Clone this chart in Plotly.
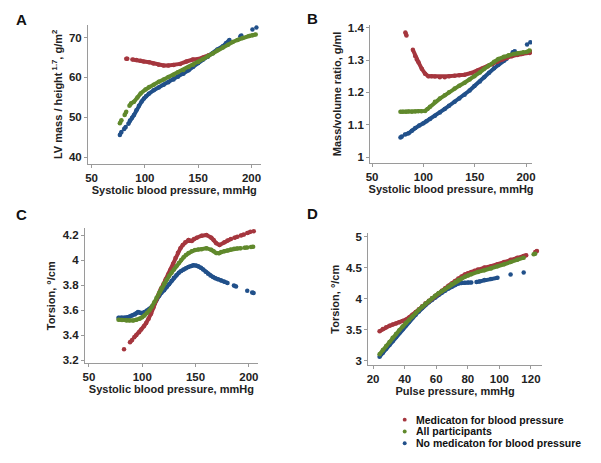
import plotly.graph_objects as go

names = ["Medicaton for blood pressure", "All participants", "No medicaton for blood pressure"]
colors = ["#a5363e", "#60892c", "#21508a"]

# panel A: LV mass index vs systolic BP
a_x_med = [82.5, 83.5, None, 88.3, 92, 96, 99, 104, 108, 113, 117.6, 122, 127, 133, 139, 145, 150, 155, 160]
a_y_med = [64.7, 64.7, None, 64.5, 64.4, 64.2, 64.0, 63.8, 63.5, 63.2, 63.0, 63.0, 63.1, 63.4, 64.0, 64.5, 64.6, 65.0, 65.6]
a_x_all = [76.5, 78.0, None, 81.0, 82.5, None, 85.5, 87.0, 89.8, 93, 96.0, 100.6, 104, 108.3, 113, 117.6, 122, 126.9, 131, 136.1,
           141, 145.4, 150, 154.6, 159, 163.9, 168, 173.1, 178, 182.4, 187, 191.7, 197.8, 201, 204.0]
a_y_all = [48.5, 49.3, None, 50.6, 51.4, None, 52.9, 53.5, 53.9, 55.0, 56.0, 57.0, 57.6, 58.2, 58.9, 59.5, 60.1, 60.7, 61.3, 61.9,
           62.6, 63.2, 63.9, 64.6, 65.3, 66.1, 66.8, 67.5, 68.2, 68.9, 69.4, 69.9, 70.4, 70.6, 70.8]
a_x_no = [76.5, 78.0, None, 80.5, 82.0, None, 84.5, 86.0, 88.0, 89.8, 92, 94.4, 97, 99.1, 101, 103.7, 108.3, 113, 117.6, 122,
          126.9, 131, 136.1, 141, 145.4, 150, 154.6, 159, 163.9, 168, 173.1, 176, 179.3, None, 189.5, 190.5, None, 200.9, None, 204.6]
a_y_no = [45.6, 46.3, None, 47.1, 47.6, None, 48.4, 49.2, 49.9, 50.6, 51.8, 52.9, 54.0, 54.7, 55.3, 55.9, 56.8, 57.5, 58.2, 58.8,
          59.5, 60.2, 60.9, 61.8, 62.7, 63.6, 64.5, 65.2, 66.1, 67.0, 67.8, 68.6, 69.4, None, 70.3, 70.5, None, 72.0, None, 72.5]

# panel B: mass/volume ratio vs systolic BP
b_x_med = [82.4, 83.5, None, 89.7, 91.9, 93.5, 95.2, 98.4, 101.6, 104.8, 108, 111.2, 116, 120.8, 125, 130.4, 135, 140.1, 146.5,
           152.9, 157, 162.5, 167, 172.1, 177, 181.7, 186, 191.3, 196, 201.0, None, 203.5, 204.5]
b_y_med = [1.385, 1.376, None, 1.332, 1.313, 1.302, 1.293, 1.273, 1.258, 1.250, 1.250, 1.249, 1.247, 1.247, 1.250, 1.252, 1.253, 1.255, 1.260,
           1.268, 1.273, 1.280, 1.287, 1.295, 1.302, 1.308, 1.312, 1.316, 1.319, 1.322, None, 1.322, 1.326]
b_x_all = [77.6, 80, 83, 85.5, 88.8, 92, 95, 98, 101.6, 104, 106.4, 111.2, 116, 120.8, 125, 130.4, 135, 140.1, 145, 149.7, 155, 159.3,
           164, 168.9, 173, 178.5, 183, 188.1, 192, 197.8, None, 200.5, 203.5]
b_y_all = [1.140, 1.140, 1.140, 1.141, 1.140, 1.141, 1.142, 1.142, 1.143, 1.149, 1.156, 1.171, 1.181, 1.191, 1.201, 1.212, 1.221, 1.230, 1.240,
           1.250, 1.262, 1.273, 1.284, 1.295, 1.303, 1.310, 1.315, 1.319, 1.321, 1.324, None, 1.325, 1.330]
b_x_no = [77.6, 79, None, 82, 85.6, 88.8, 92.0, 96, 100, 103, 106.4, 111.2, 116, 120.8, 125, 130.4, 135, 140.1, 145, 149.7, 155,
          159.3, 164, 168.9, 173, 178.5, 181, None, 187, 189, None, 201.0, None, 204.2]
b_y_no = [1.061, 1.064, None, 1.070, 1.074, 1.082, 1.090, 1.098, 1.105, 1.111, 1.118, 1.128, 1.138, 1.149, 1.159, 1.171, 1.181, 1.193, 1.206,
          1.220, 1.234, 1.247, 1.261, 1.275, 1.286, 1.298, 1.304, None, 1.324, 1.327, None, 1.348, None, 1.355]

# panel C: torsion vs systolic BP
c_x_med = [82.9, None, 88.5, 90.5, None, 92.5, 94.5, 97, 99.1, 101.5, 103.7, 106, 108.3, 110.5, 112.8, 115, 117.4, 120, 122.0, 124.5,
           126.6, 129, 131.2, 133.5, 135.8, 138, 140.4, 143.4, 146.5, 148.5, 151.1, 155.7, 160.2, 164.8, 167, 169.4, 172.5, 177.1,
           180, 183.2, None, 186.5, 189.3, None, 192.5, 195.4, None, 198.5, 201.5, None, 204.6]
c_y_med = [3.289, None, 3.345, 3.362, None, 3.384, 3.402, 3.425, 3.446, 3.472, 3.498, 3.532, 3.572, 3.622, 3.676, 3.722, 3.768, 3.810, 3.847, 3.888,
           3.925, 3.970, 4.017, 4.058, 4.095, 4.120, 4.142, 4.161, 4.153, 4.168, 4.179, 4.195, 4.200, 4.179, 4.160, 4.135, 4.121, 4.142,
           4.156, 4.169, None, 4.178, 4.187, None, 4.196, 4.205, None, 4.216, 4.226, None, 4.231]
c_x_all = [77.7, 81, 85.3, 88, 91.4, 94.5, 97.6, 100, 102.1, 104.5, 106.7, 109, 111.3, 113.5, 115.9, 118, 120.5, 122.8, 125.1, 127.5,
           129.7, 132, 134.3, 136.5, 138.8, 141, 143.4, 146.5, 149.5, 152.5, 155.7, 160.2, 164.8, 167, 169.4, 172, 174.0, 177, 180.1,
           183, 186.2, 189, 192.4, None, 196, 198.5, None, 202, 204.0]
c_y_all = [3.525, 3.522, 3.519, 3.518, 3.519, 3.524, 3.532, 3.544, 3.559, 3.577, 3.598, 3.628, 3.663, 3.702, 3.742, 3.778, 3.813, 3.843, 3.873, 3.900,
           3.925, 3.951, 3.977, 4.000, 4.022, 4.040, 4.056, 4.070, 4.080, 4.084, 4.087, 4.095, 4.082, 4.070, 4.056, 4.055, 4.064, 4.071, 4.077,
           4.084, 4.090, 4.093, 4.095, None, 4.098, 4.101, None, 4.104, 4.106]
c_x_no = [77.7, 80.5, 83.8, 86, 88.4, 90.5, 93.0, 94.5, 96.0, 97.5, 99.1, 102.1, 104.5, 106.7, 109, 111.3, 113.5, 115.9, 118, 120.5,
          122.8, 125.1, 127.5, 129.7, 132, 134.3, 136.5, 138.8, 141, 143.4, 146, 148.0, 150.5, 152.6, 155, 157.2, 159.5, 161.8,
          164, 166.4, 168.5, 170.9, 174, 177.1, 180, None, 186, 188, None, 198.5, None, 203.1, 204.5]
c_y_no = [3.540, 3.540, 3.540, 3.545, 3.551, 3.558, 3.566, 3.576, 3.585, 3.582, 3.577, 3.585, 3.597, 3.611, 3.629, 3.650, 3.683, 3.716, 3.740, 3.760,
          3.784, 3.807, 3.835, 3.860, 3.880, 3.899, 3.913, 3.925, 3.936, 3.946, 3.953, 3.959, 3.956, 3.951, 3.940, 3.925, 3.908, 3.891,
          3.877, 3.865, 3.856, 3.847, 3.838, 3.828, 3.818, None, 3.797, 3.790, None, 3.755, None, 3.742, 3.738]

# panel D: torsion vs pulse pressure
d_x_med = [24.1, 26.2, 28.3, 30.4, 32.4, 34.5, 36.6, 38.7, 40.7, 42.8, 44.9, 47, 49.0, 51.1, 53.2, 55.3, 57.3, 59.4, 61.5, 63.5,
           65.6, 67.7, 69.8, 71.9, 74.0, 76, 78.1, 80.2, 82.2, 84.3, 86.4, 90.5, 94.7, 98.8, 103.0, 107.1, 111.3, 115.4, 117, None, 122.7, 123.8]
d_y_med = [3.477, 3.512, 3.541, 3.565, 3.584, 3.603, 3.621, 3.641, 3.663, 3.700, 3.743, 3.788, 3.833, 3.880, 3.928, 3.968, 4.008, 4.048, 4.088, 4.128,
           4.167, 4.207, 4.247, 4.287, 4.326, 4.358, 4.390, 4.412, 4.432, 4.451, 4.469, 4.501, 4.523, 4.554, 4.592, 4.629, 4.660, 4.687, 4.700,
           None, 4.750, 4.768]
d_x_all = [24.1, 26.2, 28.3, 30.4, 32.4, 34.5, 36.6, 38.7, 40.7, 42.8, 44.9, 47, 49.0, 51.1, 53.2, 55.3, 57.3, 59.4, 61.5, 63.5,
           65.6, 67.7, 69.8, 71.9, 74.0, 76, 78.1, 80.2, 82.2, 86.4, 90.5, 94.7, 98.8, 103.0, 107.1, 111.3, 115.4, None, 121.7, 122.7]
d_y_all = [3.106, 3.175, 3.239, 3.306, 3.371, 3.433, 3.493, 3.553, 3.610, 3.664, 3.716, 3.770, 3.822, 3.871, 3.918, 3.963, 4.008, 4.049, 4.088, 4.120,
           4.151, 4.194, 4.236, 4.269, 4.300, 4.327, 4.353, 4.375, 4.395, 4.432, 4.459, 4.485, 4.523, 4.554, 4.592, 4.629, 4.660, None, 4.714, 4.724]
d_x_no = [24.1, 26.2, 28.3, 30.4, 32.4, 34.5, 36.6, 38.7, 40.7, 42.8, 44.9, 47, 49.0, 51.1, 53.2, 55.3, 57.3, 59.4, 61.5, 63.5,
          65.6, 67.7, 69.8, 71.9, 74.0, 76, 78.1, 80.2, 82.2, None, 85.5, 87.5, 90.5, 94.7, 98.8, None, 107.1, None, 115.4]
d_y_no = [3.069, 3.133, 3.196, 3.258, 3.318, 3.386, 3.451, 3.511, 3.568, 3.630, 3.690, 3.744, 3.796, 3.850, 3.902, 3.942, 3.981, 4.022, 4.061, 4.097,
          4.130, 4.163, 4.194, 4.222, 4.247, 4.253, 4.257, 4.260, 4.263, None, 4.270, 4.277, 4.300, 4.316, 4.337, None, 4.390, None, 4.422]

panels = [
    ("x", "y", [(a_x_med, a_y_med), (a_x_all, a_y_all), (a_x_no, a_y_no)]),
    ("x2", "y2", [(b_x_med, b_y_med), (b_x_all, b_y_all), (b_x_no, b_y_no)]),
    ("x3", "y3", [(c_x_med, c_y_med), (c_x_all, c_y_all), (c_x_no, c_y_no)]),
    ("x4", "y4", [(d_x_med, d_y_med), (d_x_all, d_y_all), (d_x_no, d_y_no)]),
]

fig = go.Figure()
draw_order = [2, 0, 1]  # blue under, then red, green on top
for xa, ya, series in panels:
    for i in draw_order:
        sx, sy = series[i]
        fig.add_trace(go.Scatter(
            x=sx, y=sy, xaxis=xa, yaxis=ya,
            mode="lines+markers", connectgaps=False,
            line=dict(color=colors[i], width=4),
            marker=dict(color=colors[i], size=4.5),
            name=names[i], showlegend=False,
        ))

font = "Liberation Sans, Arial, sans-serif"
W, H = 601, 463
OFF = 8  # page body margin pushes the plot right/down, so compensate


def px_dom(a, b, total, flip=False):
    a, b = a - OFF, b - OFF
    if flip:
        return [1 - b / total, 1 - a / total]
    return [a / total, b / total]


def px(v, total, flip=False):
    v = v - OFF
    return 1 - v / total if flip else v / total


def ax(dom, rng, dtick, title, anchor, standoff):
    return dict(
        domain=dom, range=rng, dtick=dtick, anchor=anchor,
        showline=True, linecolor="#9a9a9a", linewidth=1,
        ticks="outside", ticklen=3, tickcolor="#9a9a9a",
        showgrid=False, zeroline=False,
        tickfont=dict(family=font, size=11.5, color="#222", weight="bold"),
        title=dict(text=title, standoff=standoff,
                   font=dict(family=font, size=11, color="#222", weight="bold")),
    )


sbp = "Systolic blood pressure, mmHg"
fig.update_layout(
    width=W, height=H,
    margin=dict(l=0, r=0, t=0, b=0),
    plot_bgcolor="white", paper_bgcolor="white",
    showlegend=False,
    xaxis=ax(px_dom(85, 260, W), [46.6, 208.6], 50, sbp, "y", 2),
    yaxis=ax(px_dom(22, 163, H, True), [38.3, 73.2], 10, "LV mass / height<sup> 1.7</sup>, g/m<sup>2</sup>", "x", 4),
    xaxis2=ax(px_dom(371, 535, W), [48.1, 205.8], 50, sbp, "y2", 2),
    yaxis2=ax(px_dom(22, 162, H, True), [0.982, 1.409], 0.1, "Mass/volume ratio, g/ml", "x2", 4),
    xaxis3=ax(px_dom(82, 257, W), [46.3, 208.3], 50, sbp, "y3", 2),
    yaxis3=ax(px_dom(228, 365, H, True), [3.176, 4.255], 0.2, "Torsion, °/cm", "x3", 4),
    xaxis4=ax(px_dom(369, 545, W), [16.9, 126.9], 20, "Pulse pressure, mmHg", "y4", 2),
    yaxis4=ax(px_dom(233, 367, H, True), [2.929, 5.056], 0.5, "Torsion, °/cm", "x4", 4),
)

# panel letters
for letter, lx, ly in [("A", 18, 17), ("B", 313, 16), ("C", 18, 214), ("D", 313, 213)]:
    fig.add_annotation(text=letter, x=px(lx, W), y=px(ly, H, True), xref="paper", yref="paper",
                       showarrow=False, xanchor="center", yanchor="middle",
                       font=dict(family=font, size=15, color="#111", weight="bold"))

# legend (drawn by hand for tight row spacing)
for i, row_y in zip(range(3), [422, 434, 446]):
    fig.add_shape(type="circle", xref="paper", yref="paper",
                  x0=px(406 - 2, W), x1=px(406 + 2, W),
                  y0=px(row_y + 2, H, True), y1=px(row_y - 2, H, True),
                  fillcolor=colors[i], line=dict(width=0))
    fig.add_annotation(text=names[i], x=px(415, W), y=px(row_y, H, True), xref="paper", yref="paper",
                       showarrow=False, xanchor="left", yanchor="middle",
                       font=dict(family=font, size=10.5, color="#111", weight="bold"))

fig.write_html("out.html")
